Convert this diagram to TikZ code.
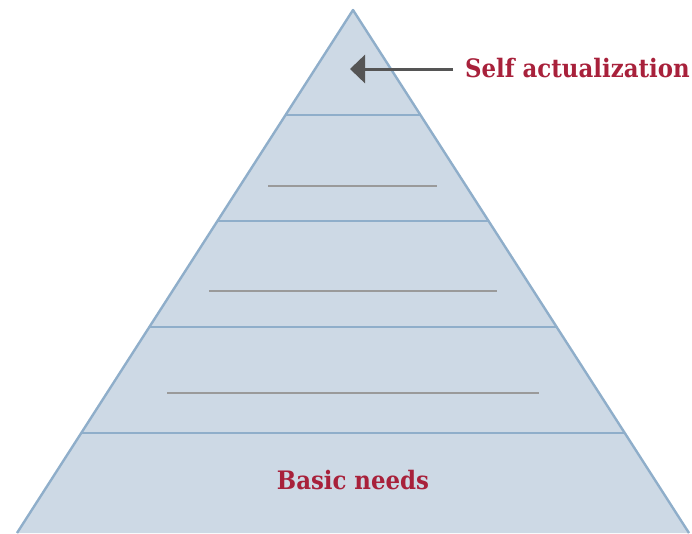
\documentclass[tikz,border=0pt]{standalone}
\usepackage{fontspec}
\usetikzlibrary{arrows.meta}
\newfontfamily\labelfont{DejaVu Serif Condensed}
\definecolor{tierfill}{HTML}{CDD9E5}
\definecolor{tieredge}{HTML}{8FAECA}
\definecolor{labelred}{HTML}{A8213B}
\definecolor{arrowgray}{HTML}{555555}
\definecolor{blankline}{HTML}{9A9A9A}
\tikzset{
  edge/.style={draw=tieredge, line width=2.4pt},
  blank/.style={draw=blankline, line width=1.3pt},
  tierlabel/.style={text=labelred, inner sep=0pt, font=\labelfont\fontsize{25.4}{29}\selectfont\bfseries},
  pointer/.style={draw=arrowgray, line width=3pt, -{Triangle[width=28pt,length=15pt]}}
}
\begin{document}
\begin{tikzpicture}[x=1pt,y=-1pt]
\useasboundingbox (0,0) rectangle (692,533);
% outline of the pyramid
\coordinate (apex) at (353,10);
\coordinate (bl) at (17,533);
\coordinate (br) at (689,533);
\fill[tierfill] (apex) -- (bl) -- (br) -- cycle;
\draw[edge, line join=round] (bl) -- (apex) -- (br);
% tier separators
\foreach \y in {115,221,327,433}{
  \pgfmathsetmacro{\dx}{0.642447*(\y-10)}
  \draw[edge] ({353-\dx},\y) -- ({353+\dx},\y);
}
% blank writing lines inside the middle tiers
\draw[blank] (268,186) -- (437,186);
\draw[blank] (209,291) -- (497,291);
\draw[blank] (167,393) -- (539,393);
% labels
\node[tierlabel, anchor=base west] (top) at (465,77) {Self actualization};
\node[tierlabel, anchor=base] (base) at (353,489) {Basic needs};
% pointer to the top tier
\coordinate (tip) at (350,69);
\draw[pointer] (top.west |- tip) ++(-12,0) -- (tip);
\end{tikzpicture}
\end{document}
